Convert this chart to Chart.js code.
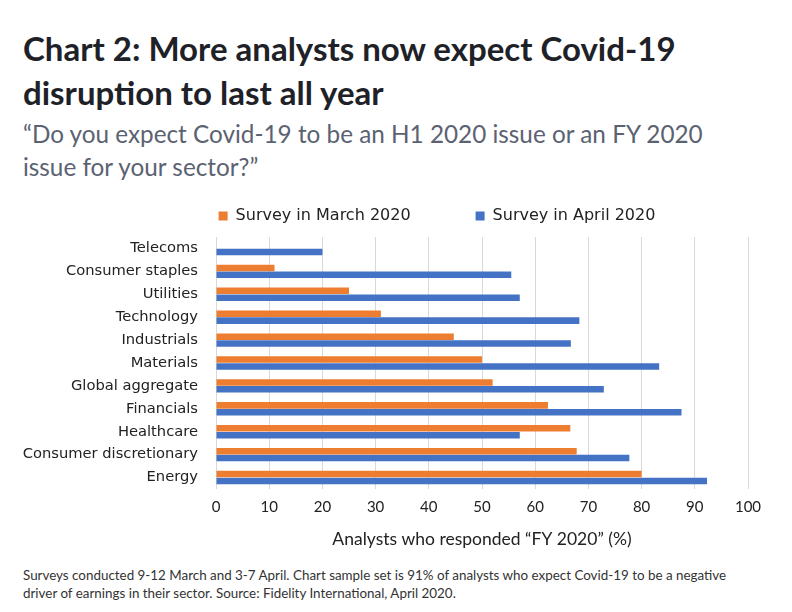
<!DOCTYPE html>
<html lang="en">
<head>
  <meta charset="UTF-8" />
  <title>Chart 2: More analysts now expect Covid-19 disruption to last all year</title>
  <script src="https://cdn.jsdelivr.net/npm/chart.js"></script>
  <style>
    html, body { margin: 0; padding: 0; background: #fff; }
    body { width: 792px; height: 612px; position: relative; overflow: hidden; font-family: Lato, sans-serif; }
    #title { position: absolute; left: 23px; top: 26px; font-size: 33px; font-weight: bold; color: #1e2228; line-height: 44px; }
    #subtitle { position: absolute; left: 23px; top: 117px; font-size: 24.3px; color: #5b6272; line-height: 33px; }
    #chartBox { position: absolute; left: 0; top: 143px; width: 792px; height: 411px; }
    #note { position: absolute; left: 23px; top: 566px; font-size: 13.4px; color: #333; line-height: 18px; }
  </style>
</head>
<body>
  <div id="title">Chart 2: More analysts now expect Covid-19<br>disruption to last all year</div>
  <div id="subtitle">“Do you expect Covid-19 to be an H1 2020 issue or an FY 2020<br>issue for your sector?”</div>
  <div id="chartBox"><canvas id="chart"></canvas></div>
  <div id="note">Surveys conducted 9-12 March and 3-7 April. Chart sample set is 91% of analysts who expect Covid-19 to be a negative<br>driver of earnings in their sector. Source: Fidelity International, April 2020.</div>

  <script>
    // sectors, top to bottom
    const sectors = ['Telecoms', 'Consumer staples', 'Utilities', 'Technology', 'Industrials',
      'Materials', 'Global aggregate', 'Financials', 'Healthcare', 'Consumer discretionary', 'Energy'];
    const march = [null, 11, 25, 31, 44.7, 50, 52, 62.4, 66.6, 67.8, 80];
    const april = [20, 55.5, 57.1, 68.3, 66.7, 83.3, 72.9, 87.5, 57.1, 77.7, 92.3];
    const xTicks = [0, 10, 20, 30, 40, 50, 60, 70, 80, 90, 100];

    const PAD_LEFT = 10;

    // nudge the legend: tweak the room under it, and shift it right like the original
    const legendTweak = {
      id: 'legendTweak',
      beforeInit(chart) {
        const fit = chart.legend.fit;
        chart.legend.fit = function () { fit.call(this); this.height += 3; };
      },
      afterLayout(chart) {
        chart.legend.left += 58;
        chart.legend.right += 58;
      },
    };

    new Chart(document.getElementById('chart'), {
      type: 'bar',
      data: {
        labels: sectors,
        datasets: [
          { label: 'Survey in March 2020', data: march, backgroundColor: '#ED7D31' },
          { label: 'Survey in April 2020', data: april, backgroundColor: '#4472C4' },
        ],
      },
      plugins: [legendTweak],
      options: {
        indexAxis: 'y',
        responsive: true,
        maintainAspectRatio: false,
        animation: false,
        categoryPercentage: 0.6,
        barPercentage: 0.95,
        layout: { padding: { left: PAD_LEFT, right: 44, top: 0, bottom: 0 } },
        plugins: {
          legend: {
            labels: {
              boxWidth: 9, boxHeight: 9, padding: 65,
              color: '#222', font: { family: 'DejaVu Sans', size: 16 },
            },
          },
          tooltip: { enabled: false },
        },
        scales: {
          x: {
            min: 0, max: 100,
            afterBuildTicks: s => { s.ticks = xTicks.map(v => ({ value: v })); },
            grid: { color: '#d9d9d9', drawTicks: false },
            border: { display: false },
            ticks: { color: '#222', padding: 9, font: { family: 'Lato', size: 15 } },
            title: {
              display: true, text: 'Analysts who responded “FY 2020” (%)',
              color: '#222', font: { family: 'Lato', size: 17.5 }, padding: { top: 4 },
            },
          },
          y: {
            grid: { display: false },
            border: { display: false },
            afterFit: s => { s.width = 216 - PAD_LEFT; },
            ticks: { color: '#222', padding: 10, autoSkip: false, font: { family: 'DejaVu Sans', size: 14.7 } },
          },
        },
      },
    });
  </script>
</body>
</html>
